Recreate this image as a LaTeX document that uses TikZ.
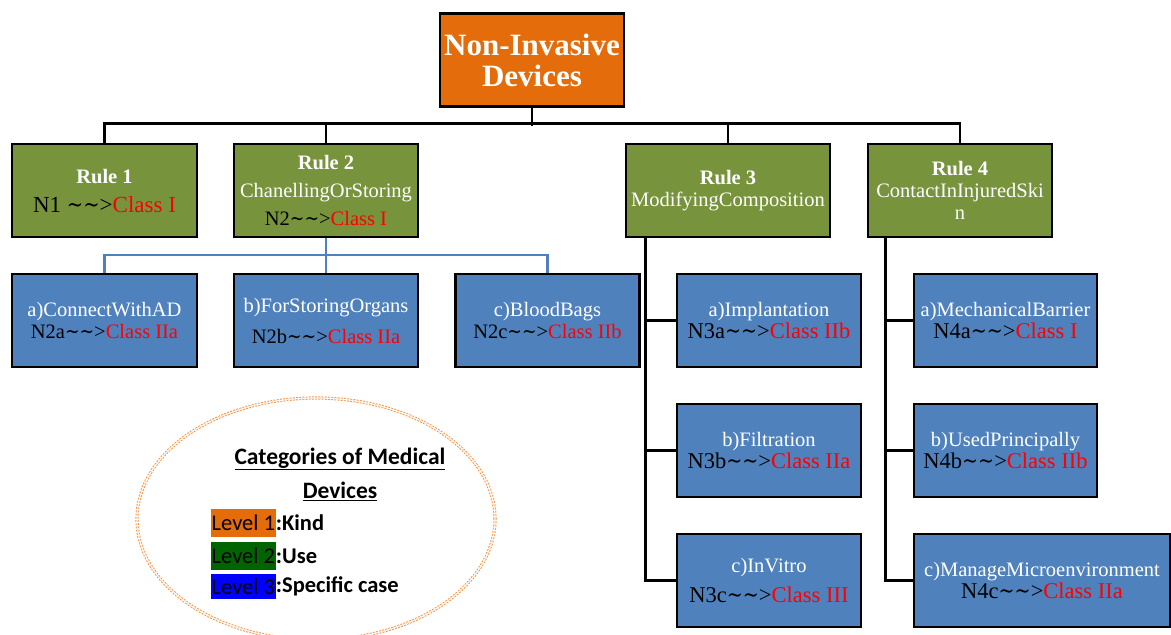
\documentclass[tikz,border=0pt]{standalone}
\usepackage{fontspec}
\setmainfont{Liberation Serif}
\newfontfamily\legendfont{Carlito}
\newfontfamily\tildefont{DejaVu Serif}
\usetikzlibrary{shapes.geometric}

\definecolor{rootorange}{RGB}{228,108,10}
\definecolor{rulegreen}{RGB}{119,147,60}
\definecolor{caseblue}{RGB}{79,129,189}
\definecolor{classred}{RGB}{255,0,0}
\definecolor{legorange}{RGB}{247,150,70}
\definecolor{lvone}{RGB}{228,108,10}
\definecolor{lvtwo}{RGB}{0,100,0}
\definecolor{lvthree}{RGB}{0,0,255}

\newcommand\cls[1]{\textcolor{classred}{#1}}
\newcommand\wht[1]{\textcolor{white}{#1}}
\newcommand\arr{{\tildefont\scalebox{0.85}[1]{\textasciitilde\textasciitilde}}>}
\newcommand\bigline{\fontsize{22.5}{24}\selectfont}

\begin{document}
\begin{tikzpicture}[x=1pt,y=-1pt,
  box/.style={draw=black, line width=2.6pt, rectangle, inner sep=0pt,
    align=center, minimum height=93pt, minimum width=184pt},
  rootbox/.style={box, fill=rootorange, text=white,
    font=\bfseries\fontsize{31}{31}\selectfont},
  rulebox/.style={box, fill=rulegreen, font=\fontsize{20.5}{22}\selectfont},
  casebox/.style={box, fill=caseblue, font=\fontsize{20.5}{22}\selectfont},
  tree/.style={draw=black, line width=2.6pt},
  subtree/.style={draw=caseblue, line width=2.2pt},
  lvl/.style={anchor=west, inner xsep=0.5pt, inner ysep=0pt, minimum height=28pt,
    font=\legendfont\fontsize{22.5}{24}\selectfont},
  lvltext/.style={anchor=west, inner sep=0pt,
    font=\legendfont\bfseries\fontsize{22.5}{24}\selectfont},
  legtitle/.style={font=\legendfont\bfseries\fontsize{23.5}{24}\selectfont}
]
\useasboundingbox (0,0) rectangle (1171,635);

% level 1
\node[rootbox] (root) at (532,60) {Non-Invasive\\Devices};

% level 2: the four rules
\node[rulebox, minimum width=185pt] (r1) at (104.5,190.5)
  {\wht{\bfseries Rule 1}\\[7pt]{\fontsize{23}{24}\selectfont N1 \arr\cls{Class I}}};
\node[rulebox] (r2) at (326,190.5)
  {\wht{\bfseries Rule 2}\\[6pt]\wht{ChanellingOrStoring}\\[6pt]N2\arr\cls{Class I}};
\node[rulebox, minimum width=204pt] (r3) at (728,190.5)
  {\wht{\bfseries Rule 3}\\\wht{ModifyingComposition}};
\node[rulebox] (r4) at (960,190.5)
  {\wht{\bfseries Rule 4}\\\wht{ContactInInjuredSki}\\\wht{n}};

% level 3: specific cases
\node[casebox, minimum width=185pt] (n2a) at (104.5,320.5)
  {\wht{a)ConnectWithAD}\\N2a\arr\cls{Class IIa}};
\node[casebox] (n2b) at (326,320.5)
  {\wht{b)ForStoringOrgans}\\[9pt]N2b\arr\cls{Class IIa}};
\node[casebox] (n2c) at (547.5,320.5)
  {\wht{c)BloodBags}\\N2c\arr\cls{Class IIb}};

\node[casebox] (n3a) at (769,320.5)
  {\wht{a)Implantation}\\{\bigline N3a\arr\cls{Class IIb}}};
\node[casebox] (n3b) at (769,450.5)
  {\wht{b)Filtration}\\{\bigline N3b\arr\cls{Class IIa}}};
\node[casebox] (n3c) at (769,580.5)
  {\wht{c)InVitro}\\[8pt]{\bigline N3c\arr\cls{Class III}}};

\node[casebox, minimum width=183pt] (n4a) at (1005.5,320.5)
  {\wht{a)MechanicalBarrier}\\{\bigline N4a\arr\cls{Class I}}};
\node[casebox, minimum width=183pt] (n4b) at (1005.5,450.5)
  {\wht{b)UsedPrincipally}\\{\bigline N4b\arr\cls{Class IIb}}};
\node[casebox, minimum width=256pt] (n4c) at (1042,580.5)
  {\wht{c)ManageMicroenvironment}\\{\bigline N4c\arr\cls{Class IIa}}};

% connectors from the root to the rules
\draw[tree] (root.south) -- ++(0,18.5);
\draw[tree] (r1.north) -- ++(0,-19.5) -| (r4.north);
\draw[tree] (r2.north) -- ++(0,-19.5);
\draw[tree] (r3.north) -- ++(0,-19.5);

% rule 2 branches
\draw[subtree] (r2.south) -- ++(0,19);
\draw[subtree] (n2a.north) -- ++(0,-18) -| (n2c.north);
\draw[subtree] (n2b.north) -- ++(0,-18);

% rule 3 spine
\coordinate (s3) at ([xshift=21pt]r3.south west);
\draw[tree] (s3) |- (n3c.west);
\draw[tree] (n3a.west) -- (n3a.west -| s3);
\draw[tree] (n3b.west) -- (n3b.west -| s3);

% rule 4 spine
\coordinate (s4) at ([xshift=19pt]r4.south west);
\draw[tree] (s4) |- (n4c.west);
\draw[tree] (n4a.west) -- (n4a.west -| s4);
\draw[tree] (n4b.west) -- (n4b.west -| s4);

% legend
\node[ellipse, draw=legorange, line width=1pt, double=white, double distance=1.2pt,
  dash pattern=on 1.8pt off 1.4pt, minimum width=358pt, minimum height=242pt] (legend) at (316,519) {};
\node[legtitle] (lt1) at (340,459) {\underline{Categories of Medical}};
\node[legtitle] (lt2) at (340,491) {\underline{Devices}};
\node[lvl, fill=lvone] (lv1) at (211,522.5) {Level 1};
\node[lvltext] (k1) at (lv1.east) {:Kind};
\node[lvl, fill=lvtwo] (lv2) at (211,556) {Level 2};
\node[lvltext] (k2) at (lv2.east) {:Use};
\node[lvl, fill=lvthree, minimum height=25pt] (lv3) at (211,586.5) {Level 3};
\node[lvltext] (k3) at (lv3.east) {:Specific case};
\end{tikzpicture}
\end{document}
